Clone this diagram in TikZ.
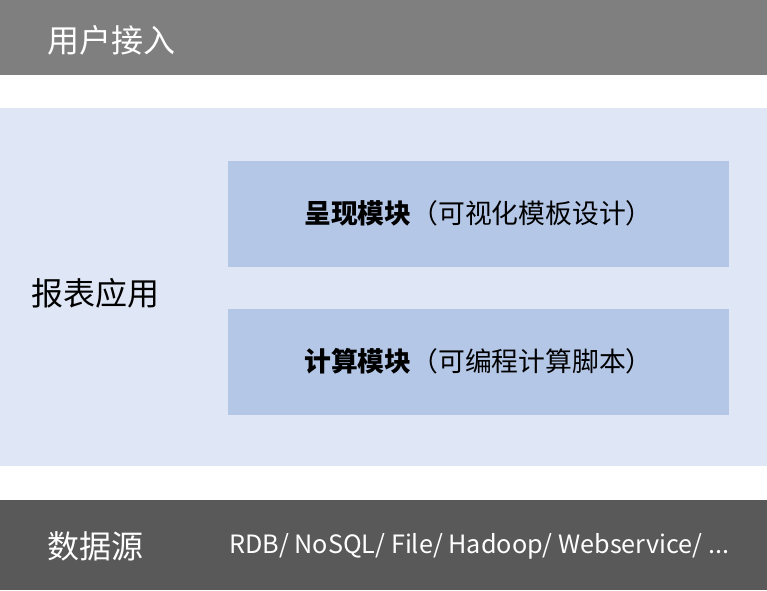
\documentclass[tikz,border=0pt]{standalone}
\usepackage{fontspec}
\setmainfont{Noto Sans CJK SC}
\usetikzlibrary{positioning}
\definecolor{bar_top}{RGB}{127, 127, 127}
\definecolor{bar_bottom}{RGB}{89, 89, 89}
\definecolor{app_bg}{RGB}{223, 230, 245}
\definecolor{module_fill}{RGB}{180, 199, 231}
\tikzstyle{layer}=[anchor=west,inner sep=0pt,font=\fontsize{24}{28}\selectfont]
\tikzstyle{module}=[rectangle,fill=module_fill,outer sep=0pt,
  minimum width=375.75pt,minimum height=79.5pt,font=\fontsize{20.1}{24}\selectfont]
\tikzstyle{kinds}=[anchor=west,inner sep=0pt,text=white,font=\fontsize{18.9}{22}\selectfont]

\begin{document}
\begin{tikzpicture}[x=0.75pt,y=-0.75pt]
            \useasboundingbox (0, 0) rectangle (767, 590);
            \fill [bar_top] (0, 0) rectangle (767, 75);
            \fill [app_bg] (0, 108) rectangle (767, 466);
            \fill [bar_bottom] (0, 500) rectangle (767, 590);
            \node [style=layer,text=white] (user) at (47, 40) {用户接入};
            \node [style=layer] (report) at (31, 293) {报表应用};
            \node [style=layer,text=white] (source) at (47, 546) {数据源};
            \node [style=module] (render) at (478.5, 213.5) {\textbf{呈现模块}（可视化模板设计）};
            \node [style=module,below=31.5pt of render] (compute) {\textbf{计算模块}（可编程计算脚本）};
            \node [style=kinds] (sources) at (229, 546) {RDB/ NoSQL/ File/ Hadoop/ Webservice/ ...};
    \end{tikzpicture}
\end{document}
